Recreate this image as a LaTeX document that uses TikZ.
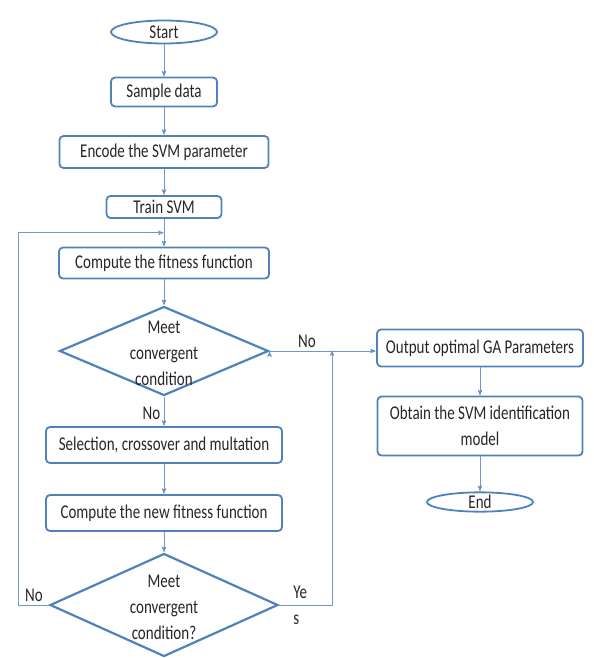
\documentclass[tikz,border=0pt]{standalone}
\usepackage{fontspec}
\setmainfont{Carlito}[FakeStretch=0.77]
\usetikzlibrary{arrows,shapes.geometric,calc}

\definecolor{boxblue}{RGB}{79,129,189}
\definecolor{lineblue}{RGB}{112,152,206}
\newcommand{\flowfont}{\fontsize{19.5bp}{26bp}\selectfont}

\tikzset{
  flowbox/.style={draw=boxblue, line width=1.8bp, rounded corners=4bp, inner sep=2bp, font=\flowfont},
  terminal/.style={ellipse, draw=boxblue, line width=1.8bp, inner sep=0pt, font=\flowfont},
  decision/.style={diamond, draw=boxblue, line width=2.2bp, inner sep=0pt},
  flowtext/.style={align=center, font=\flowfont},
  link/.style={draw=lineblue, line width=0.9bp}
}

\begin{document}
\begin{tikzpicture}[x=1bp,y=-1bp,>=stealth',shorten >=0.5pt,node distance=60bp,text=black!85]
    \useasboundingbox (0,0) rectangle (594,658);

    \node[terminal, minimum width=106bp, minimum height=23bp] (start) at (164,32) {Start};
    \node[flowbox, minimum width=106bp, minimum height=29bp] (sample) [below of=start] {Sample data};
    \node[flowbox, minimum width=209bp, minimum height=32bp] (encode) [below of=sample] {Encode the SVM parameter};
    \node[flowbox, minimum width=115bp, minimum height=22bp] (train) [below of=encode, node distance=55bp] {Train SVM};
    \node[flowbox, minimum width=210bp, minimum height=31bp] (fit) [below of=train, node distance=56bp] {Compute the fitness function};
    \node[decision, minimum width=209bp, minimum height=89bp] (dec1) [below of=fit, node distance=88bp] {};
    \node[flowtext] (dec1txt) at ([yshift=-2bp]dec1) {Meet\\convergent\\condition};
    \node[flowbox, minimum width=236bp, minimum height=36bp] (sel) [below of=dec1, node distance=94bp] {Selection, crossover and multation};
    \node[flowbox, minimum width=236bp, minimum height=36bp] (newfit) [below of=sel, node distance=68bp] {Compute the new fitness function};
    \node[decision, minimum width=228bp, minimum height=103bp] (dec2) [below of=newfit, node distance=92bp] {};
    \node[flowtext] (dec2txt) at ([yshift=-2bp]dec2) {Meet\\convergent\\condition?};

    \node[flowbox, minimum width=206bp, minimum height=37bp] (output) [right of=dec1, node distance=316bp, yshift=3bp] {Output optimal GA Parameters};
    \node[flowbox, align=center, minimum width=205bp, minimum height=59bp] (obtain) [below of=output, node distance=78bp] {Obtain the SVM identification\\model};
    \node[terminal, minimum width=106bp, minimum height=19bp] (stop) [below of=obtain, node distance=76bp] {End};

    \coordinate (merge) at ($(train.south)!0.5!(fit.north)$);
    \coordinate (join) at (332,350);

    \path[link,->] (start) edge (sample);
    \path[link,->] (sample) edge (encode);
    \path[link,->] (encode) edge (train);
    \path[link,->] (train) edge (fit);
    \path[link,->] (fit) edge (dec1);
    \path[link,->] (dec1.east) edge node[flowtext, pos=0.35, above] (lblno1) {No} (dec1.east -| output.west);
    \path[link,->] (dec1) edge node[flowtext, pos=0.55, left] (lblno2) {No} (sel);
    \path[link,->] (sel) edge (newfit);
    \path[link,->] (newfit) edge (dec2);
    \path[link,->] (output) edge (obtain);
    \path[link,->] (obtain) edge (stop);

    % loop back when not converged
    \draw[link,->] (dec2.west) -- node[flowtext, above] (lblno3) {No} ++(-30,0) |- (merge);
    % converged branch
    \draw[link,->] (dec2.east) -| node[flowtext, pos=0.1, right, align=left] (lblyes) {Ye\\s} (join);
\end{tikzpicture}
\end{document}
